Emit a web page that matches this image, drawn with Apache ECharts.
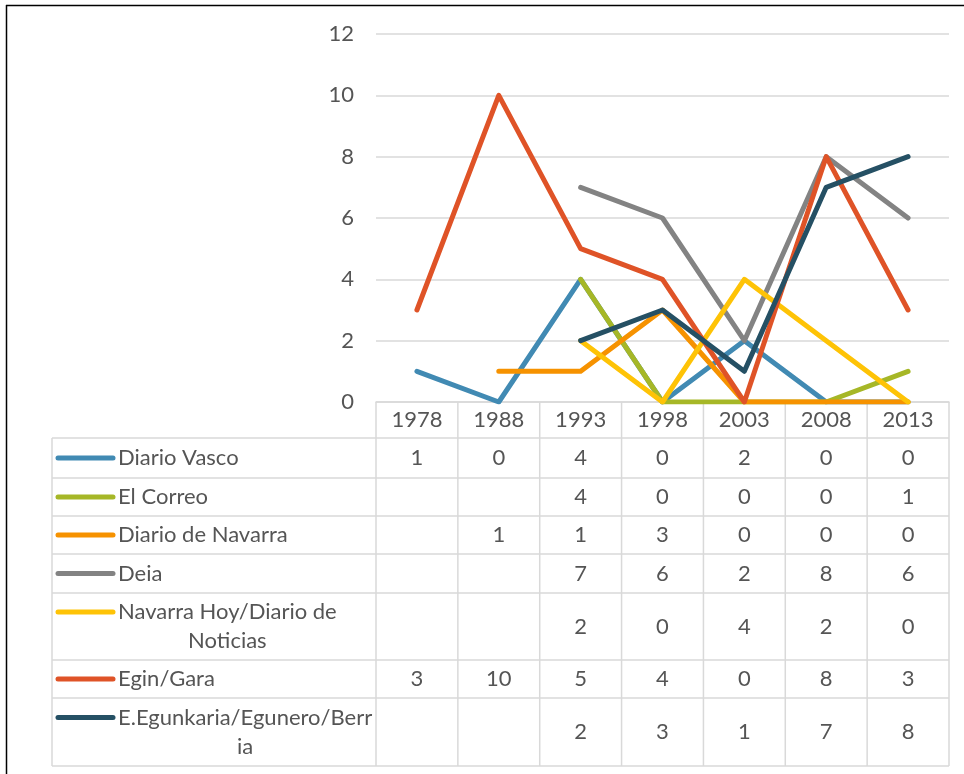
<!DOCTYPE html>
<html><head><meta charset="utf-8">
<script src="https://cdn.jsdelivr.net/npm/echarts@6/dist/echarts.min.js"></script>
<style>html,body{margin:0;padding:0;background:#fff}#c{width:964px;height:774px}</style>
</head><body><div id="c"></div>
<script>
// ---- data ----
const years = ['1978', '1988', '1993', '1998', '2003', '2008', '2013'];
const seriesNames = ['Diario Vasco', 'El Correo', 'Diario de Navarra', 'Deia', 'Navarra Hoy/Diario de Noticias', 'Egin/Gara', 'E.Egunkaria/Egunero/Berria'];
const labelLines = [['Diario Vasco'], ['El Correo'], ['Diario de Navarra'], ['Deia'], ['Navarra Hoy/Diario de', 'Noticias'], ['Egin/Gara'], ['E.Egunkaria/Egunero/Berr', 'ia']];
const diarioVasco = [1, 0, 4, 0, 2, 0, 0];
const elCorreo = [null, null, 4, 0, 0, 0, 1];
const diarioNavarra = [null, 1, 1, 3, 0, 0, 0];
const deia = [null, null, 7, 6, 2, 8, 6];
const navarraHoy = [null, null, 2, 0, 4, 2, 0];
const eginGara = [3, 10, 5, 4, 0, 8, 3];
const egunkaria = [null, null, 2, 3, 1, 7, 8];
const yMin = 0, yMax = 12, yStep = 2;

// ---- style ----
const colors = ['#418AB3', '#A6B727', '#F69200', '#838383', '#FEC306', '#DF5327', '#255064'];
const FONT = 'Lato';
const FS = 22;
const TXT = '#555555';
const GRID_C = '#d9d9d9';
const LW = 5;
const allSeries = [diarioVasco, elCorreo, diarioNavarra, deia, navarraHoy, eginGara, egunkaria];

const gridLeft = 376, gridRight = 15, gridTop = 34, gridBottom = 372;
const W = 964, H = 774;
const plotRight = W - gridRight;
const axisY = H - gridBottom;
const headerBottom = 438;
const rowEdges = [438, 478, 516, 554, 593, 660, 698, 766];
const tableLeft = 52;
const lineHeight = 29;

const chart = echarts.init(document.getElementById('c'), null, {renderer: 'canvas'});

chart.setOption({
  animation: false,
  backgroundColor: '#fff',
  grid: {left: gridLeft, right: gridRight, top: gridTop, bottom: gridBottom, containLabel: false},
  xAxis: {
    type: 'category', data: years, boundaryGap: true,
    axisLine: {show: true, lineStyle: {color: GRID_C, width: 1.5}},
    axisTick: {show: false},
    axisLabel: {color: TXT, fontFamily: FONT, fontSize: FS, margin: 7}
  },
  yAxis: {
    type: 'value', min: yMin, max: yMax, interval: yStep,
    axisLine: {show: false}, axisTick: {show: false},
    axisLabel: {color: TXT, fontFamily: FONT, fontSize: FS, margin: 22},
    splitLine: {lineStyle: {color: GRID_C, width: 1.5}}
  },
  series: allSeries.map((d, i) => ({
    name: seriesNames[i], type: 'line', data: d, showSymbol: false, symbol: 'none',
    connectNulls: false,
    lineStyle: {color: colors[i], width: LW, cap: 'round', join: 'round'},
    itemStyle: {color: colors[i]}
  }))
});

// ---- data table below the axis ----
const g = [];
const lineStyle = {stroke: GRID_C, lineWidth: 1.5};
// outer frame of the picture
g.push({type: 'line', shape: {x1: 6.5, y1: 5, x2: 6.5, y2: H}, style: {stroke: '#000', lineWidth: 1.5}, silent: true});
g.push({type: 'line', shape: {x1: 6, y1: 5.5, x2: W, y2: 5.5}, style: {stroke: '#000', lineWidth: 1.5}, silent: true});

const bandW = (plotRight - gridLeft) / years.length;
// vertical column lines
for (let i = 0; i <= years.length; i++) {
  const x = gridLeft + i * bandW;
  g.push({type: 'line', shape: {x1: x, y1: axisY, x2: x, y2: rowEdges[rowEdges.length - 1]}, style: lineStyle, silent: true});
}
g.push({type: 'line', shape: {x1: tableLeft, y1: headerBottom, x2: tableLeft, y2: rowEdges[rowEdges.length - 1]}, style: lineStyle, silent: true});
// horizontal lines
rowEdges.forEach(y => {
  g.push({type: 'line', shape: {x1: tableLeft, y1: y, x2: plotRight, y2: y}, style: lineStyle, silent: true});
});

const ctx = document.createElement('canvas').getContext('2d');
ctx.font = FS + 'px ' + FONT;

allSeries.forEach((d, r) => {
  const top = rowEdges[r], bot = rowEdges[r + 1];
  const mid = (top + bot) / 2;
  const lines = labelLines[r];
  const firstY = mid - (lines.length - 1) * lineHeight / 2;
  // legend key
  g.push({type: 'line', shape: {x1: 58, y1: firstY, x2: 113, y2: firstY}, style: {stroke: colors[r], lineWidth: LW, lineCap: 'round'}, silent: true});
  const w0 = ctx.measureText(lines[0]).width;
  lines.forEach((t, k) => {
    if (k === 0) {
      g.push({type: 'text', x: 118, y: firstY, style: {text: t, fill: TXT, font: FS + 'px ' + FONT, textAlign: 'left', textVerticalAlign: 'middle'}, silent: true});
    } else {
      g.push({type: 'text', x: 118 + w0 / 2, y: firstY + k * lineHeight, style: {text: t, fill: TXT, font: FS + 'px ' + FONT, textAlign: 'center', textVerticalAlign: 'middle'}, silent: true});
    }
  });
  d.forEach((v, c) => {
    if (v === null) return;
    const x = chart.convertToPixel({xAxisIndex: 0}, c);
    g.push({type: 'text', x: x, y: mid, style: {text: String(v), fill: TXT, font: FS + 'px ' + FONT, textAlign: 'center', textVerticalAlign: 'middle'}, silent: true});
  });
});

chart.setOption({graphic: {elements: g}});
</script>
</body></html>
